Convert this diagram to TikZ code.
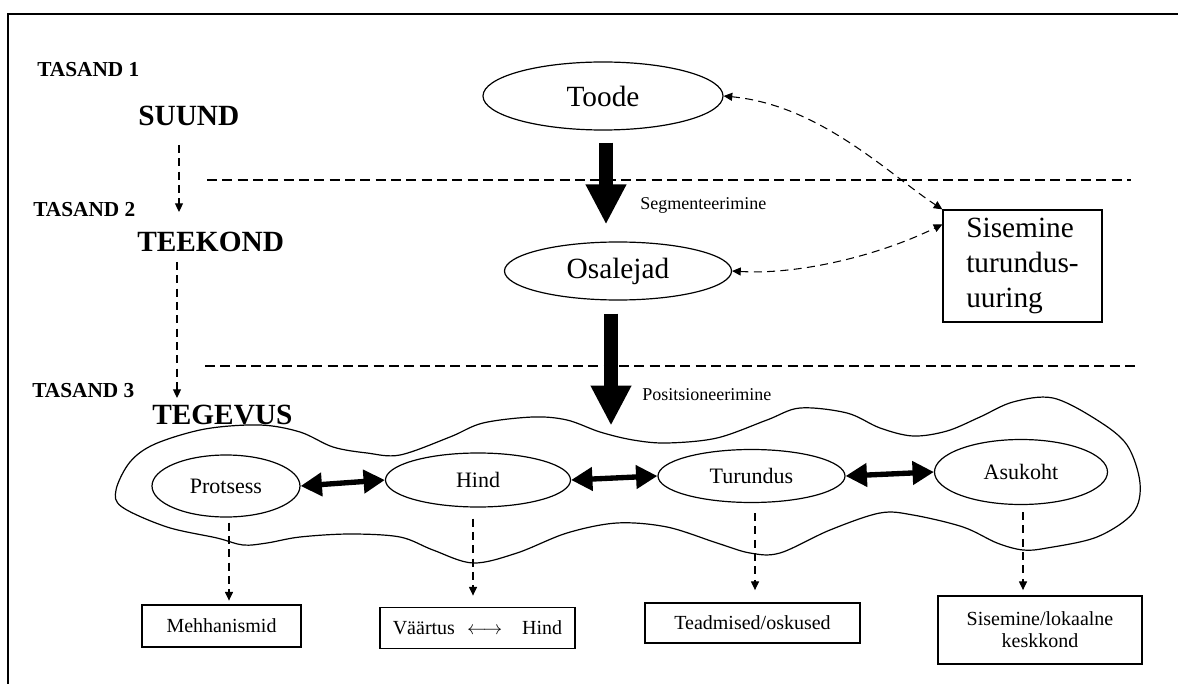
\documentclass[tikz,border=0pt]{standalone}
\usepackage{fontspec}
\setmainfont{Liberation Serif}
\usetikzlibrary{arrows.meta,calc,shapes.geometric}
\begin{document}
\begin{tikzpicture}[x=0.75pt,y=-0.75pt,
  >={Triangle[length=6.5pt,width=6pt]},
  ell/.style={draw, ellipse, line width=0.9pt, inner sep=0pt},
  bigell/.style={ell, font=\fontsize{22}{22}\selectfont},
  rowell/.style={ell, font=\fontsize{16.5}{16.5}\selectfont},
  box/.style={draw, line width=0.9pt, inner sep=0pt, align=center, font=\fontsize{15}{16.5}\selectfont},
  lvl/.style={anchor=base west, inner sep=0pt, font=\fontsize{16}{16}\selectfont\bfseries},
  stage/.style={anchor=base west, inner sep=0pt, font=\fontsize{22}{22}\selectfont\bfseries},
  lbl/.style={anchor=base west, inner sep=0pt, font=\fontsize{13.5}{13.5}\selectfont},
  dsh/.style={dash pattern=on 7.5pt off 4pt, line width=0.8pt},
  dsharr/.style={dash pattern=on 6pt off 4pt, line width=0.8pt},
  bigarr/.style={line width=10pt, -{Triangle[length=30pt,width=28.5pt]}},
  dbl/.style={line width=4pt, {Triangle[length=16pt,width=17pt]}-{Triangle[length=16pt,width=17pt]}}
]
\useasboundingbox (0,0) rectangle (1178,684);
% frame
\draw[line width=1.5pt] (8,684) -- (8,14) -- (1178,14);

% level labels
\node[lvl] (t1) at (37,77) {TASAND 1};
\node[stage] (suund) at (138,126) {SUUND};
\node[lvl] (t2) at (33,217) {TASAND 2};
\node[stage] (teekond) at (137,252) {TEEKOND};
\node[lvl] (t3) at (32,397) {TASAND 3};
\node[stage] (tegevus) at (152,424) {TEGEVUS};

\draw[dsharr,->] ($(suund.base west)+(41,19)$) -- ++(0,67);
\draw[dsharr,->] ($(teekond.base west)+(40,10)$) -- ++(0,136);

% separators
\draw[dsh] (207,180) -- (1131,180);
\draw[dsh] (205,366) -- (1140,366);

% top nodes
\node[bigell, minimum width=180pt, minimum height=51pt] (Toode) at (603,96) {Toode};
\node[bigell, minimum width=170.25pt, minimum height=43.5pt] (Osal) at (618,271) {Osalejad};
\node[draw, line width=0.9pt, inner sep=0pt, align=left, minimum width=119.25pt, minimum height=84pt,
      font=\fontsize{22}{26.25}\selectfont] (Sis) at (1022.5,266) {Sisemine\\turundus-\\uuring};

\draw[bigarr] ($(Toode.south)+(3,12)$) -- ($(Osal.north)+(-12,-17)$);
\node[lbl] (seg) at (640,210) {Segmenteerimine};
\draw[bigarr] ($(Osal.south)+(-7,13)$) -- ++(0,112);
\node[lbl] (pos) at (642,400) {Positsioneerimine};

\draw[dsharr,<->] (Toode.east) .. controls (820,105) and (890,175) .. (Sis.north west);
\draw[dsharr,<->] (Osal.east) .. controls (800,275) and (880,255) .. ($(Sis.north west)+(0,15)$);

% blob
\draw[line width=0.9pt] plot[smooth cycle, tension=0.55] coordinates {
 (116,490) (130,462) (155,444) (205,429) (260,425) (300,432) (333,447) (367,453) (400,455)
 (450,437) (483,423) (533,417) (567,420) (600,432) (633,440) (667,443) (717,438) (767,420)
 (800,408) (847,413) (880,428) (913,436) (947,431) (980,417) (1013,402) (1053,398) (1097,420)
 (1127,445) (1140,483) (1133,513) (1097,537) (1047,548) (1023,550) (997,543) (963,527)
 (913,515) (880,513) (830,530) (780,553) (750,553) (717,543) (667,527) (617,523) (567,533)
 (517,553) (473,563) (433,550) (400,537) (350,534) (300,537) (267,543) (243,545) (217,538)
 (167,527) (122,507)};

% row ellipses
\node[rowell, minimum width=111pt, minimum height=46.5pt] (Protsess) at (226,486) {Protsess};
\node[rowell, minimum width=138.75pt, minimum height=40.5pt] (Hind) at (478,480) {Hind};
\node[rowell, minimum width=140.25pt, minimum height=39.75pt] (Turundus) at (751.5,476) {Turundus};
\node[rowell, minimum width=129.75pt, minimum height=48.75pt] (Asukoht) at (1021,472) {Asukoht};

\draw[dbl] (Protsess.east) -- (Hind.west);
\draw[dbl] (Hind.east) -- (Turundus.west);
\draw[dbl] (Turundus.east) -- (Asukoht.west);

% bottom boxes
\node[box, minimum width=119.25pt, minimum height=31.5pt] (Mech) at (221.5,626) {Mehhanismid};
\node[box, minimum width=146.25pt, minimum height=30.75pt] (Val) at (477.5,628) {Väärtus\hspace{9pt}$\longleftrightarrow$\hspace{15pt}Hind};
\node[box, minimum width=161.25pt, minimum height=30pt] (Tea) at (752.5,623) {Teadmised/oskused};
\node[box, minimum width=153pt, minimum height=51pt] (Kesk) at (1040,630) {Sisemine/lokaalne\\keskkond};

\draw[dsharr,->] ($(Protsess.south)+(3,5)$) -- ++(0,78);
\draw[dsharr,->] ($(Hind.south)+(-5,11)$) -- ++(0,77);
\draw[dsharr,->] ($(Turundus.south)+(3.5,10)$) -- ++(0,77);
\draw[dsharr,->] ($(Asukoht.south)+(2,7)$) -- ++(0,78);
\end{tikzpicture}
\end{document}
